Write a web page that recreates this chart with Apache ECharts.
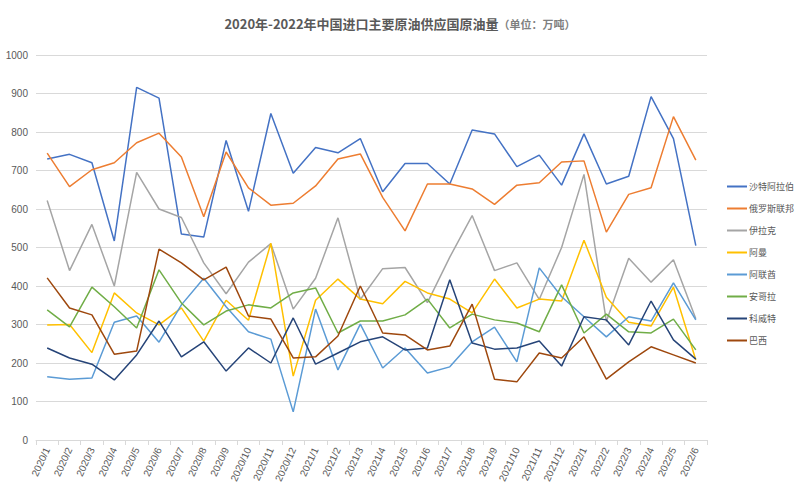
<!DOCTYPE html>
<html>
<head>
<meta charset="utf-8">
<script src="https://cdn.jsdelivr.net/npm/echarts@6/dist/echarts.min.js"></script>
<style>html,body{margin:0;padding:0;background:#fff}#chart{width:800px;height:500px}</style>
</head>
<body>
<div id="chart"></div>
<script>
var months = [];
[2020, 2021].forEach(function(y) { for (var m = 1; m <= 12; m++) months.push(y + '/' + m); });
for (var m = 1; m <= 6; m++) months.push('2022/' + m);

var names = ['沙特阿拉伯', '俄罗斯联邦', '伊拉克', '阿曼', '阿联酋', '安哥拉', '科威特', '巴西'];
var colors = ['#4472C4', '#ED7D31', '#A5A5A5', '#FFC000', '#5B9BD5', '#70AD47', '#264478', '#9E480E'];

var saudi = [730,742,720,517,916,888,535,527,778,594,848,693,760,746,783,645,718,718,665,805,795,710,740,662,795,665,685,892,783,505];
var russia = [745,658,702,720,772,797,735,580,748,655,610,615,660,730,743,630,543,665,665,652,612,662,668,722,725,540,638,655,840,727];
var iraq = [622,440,560,400,695,600,578,460,380,462,510,340,420,577,365,445,448,357,475,583,440,460,365,500,690,308,472,410,468,315];
var oman = [299,300,227,382,330,299,343,257,363,311,511,166,363,418,366,354,412,382,366,330,418,343,366,361,519,371,306,296,397,208];
var uae = [164,158,161,306,322,254,351,420,346,281,262,73,340,182,301,187,239,174,190,255,293,203,447,372,320,268,320,309,408,312];
var angola = [338,294,397,346,291,442,356,299,335,351,343,382,395,278,309,309,325,366,291,327,312,304,281,403,278,327,281,278,314,234];
var kuwait = [239,213,197,156,221,309,216,255,179,239,200,317,197,226,255,268,234,239,416,252,236,239,257,192,320,312,247,361,260,210];
var brazil = [421,343,325,223,231,496,460,416,449,322,314,213,216,270,400,278,273,234,244,353,158,151,226,213,268,158,203,242,221,200];
var seriesData = [saudi, russia, iraq, oman, uae, angola, kuwait, brazil];

var chart = echarts.init(document.getElementById('chart'), null, { renderer: 'svg' });
chart.setOption({
  animation: false,
  title: {
    text: '{b|2020年-2022年中国进口主要原油供应国原油量}{s|（单位：万吨）}',
    left: 'center', top: 12,
    textStyle: { rich: {
      b: { fontSize: 13, fontWeight: 'bold', color: '#595959', fontFamily: 'Noto Sans CJK SC' },
      s: { fontSize: 11, color: '#7f7f7f', fontFamily: 'Noto Sans CJK SC' }
    } }
  },
  legend: {
    orient: 'vertical', left: 722, top: 177, itemGap: 13,
    icon: 'rect', itemWidth: 20, itemHeight: 2,
    textStyle: { fontSize: 9, color: '#595959', padding: [0, 0, 0, -3], fontFamily: 'Noto Sans CJK SC' },
    data: names
  },
  grid: { left: 36, right: 93, top: 55, bottom: 60 },
  xAxis: {
    type: 'category', data: months, boundaryGap: true,
    axisLine: { lineStyle: { color: '#d9d9d9' } },
    axisTick: { show: true, lineStyle: { color: '#d9d9d9' } },
    axisLabel: { rotate: 65, fontSize: 10, color: '#595959', interval: 0 }
  },
  yAxis: {
    type: 'value', min: 0, max: 1000, interval: 100,
    axisLine: { show: false }, axisTick: { show: false },
    axisLabel: { fontSize: 10, color: '#595959', formatter: function(v) { return String(v); } },
    splitLine: { lineStyle: { color: '#d9d9d9' } }
  },
  series: names.map(function(n, i) {
    return {
      name: n, type: 'line', data: seriesData[i], showSymbol: false,
      lineStyle: { width: 1.5, color: colors[i] }, itemStyle: { color: colors[i] }
    };
  })
});
</script>
</body>
</html>
